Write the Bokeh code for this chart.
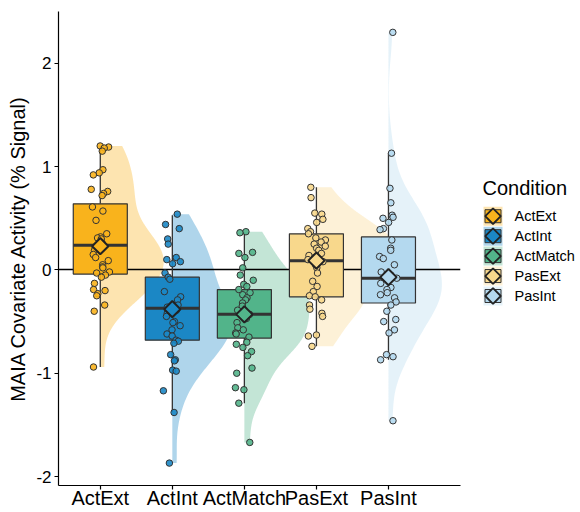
import numpy as np
from bokeh.plotting import figure
from bokeh.layouts import row
from bokeh.models import Range1d, FixedTicker, ColumnDataSource
from bokeh.transform import jitter
from bokeh.embed import file_html
from bokeh.resources import INLINE
from bokeh.core.properties import value

# ---------------- data ----------------
conditions = ["ActExt", "ActInt", "ActMatch", "PasExt", "PasInt"]
colors = ["#F9B31C", "#1B87C5", "#52B48A", "#F8D88C", "#B4D9EF"]

act_ext = [1.20, 1.19, 1.18, 1.15, 0.97, 0.94, 0.92, 0.78, 0.76, 0.74, 0.72, 0.61,
           0.57, 0.48, 0.35, 0.32, 0.31, 0.30, 0.26, 0.24, 0.22, 0.19, 0.15, 0.12,
           0.09, 0.05, 0.03, 0.02, -0.02, -0.03, -0.05, -0.07, -0.13, -0.19, -0.20,
           -0.23, -0.25, -0.34, -0.40, -0.94]
act_int = [0.54, 0.44, 0.40, 0.30, 0.25, 0.12, 0.10, 0.08, 0.06, -0.03, -0.07, -0.09,
           -0.21, -0.26, -0.29, -0.34, -0.36, -0.39, -0.42, -0.45, -0.50, -0.51, -0.54,
           -0.58, -0.62, -0.64, -0.68, -0.69, -0.71, -0.82, -0.87, -0.88, -0.97, -0.98,
           -1.17, -1.38, -1.87]
act_match = [0.37, 0.36, 0.17, 0.16, 0.12, 0.02, -0.05, -0.10, -0.14, -0.16, -0.19,
             -0.22, -0.24, -0.27, -0.29, -0.32, -0.35, -0.39, -0.43, -0.47, -0.51, -0.56,
             -0.58, -0.61, -0.62, -0.65, -0.70, -0.72, -0.75, -0.79, -0.83, -0.95, -1.00,
             -1.14, -1.16, -1.29, -1.67]
pas_ext = [0.80, 0.70, 0.55, 0.54, 0.49, 0.46, 0.40, 0.37, 0.35, 0.31, 0.29, 0.27, 0.25,
           0.23, 0.21, 0.19, 0.16, 0.14, 0.12, 0.10, 0.08, 0.05, 0.02, -0.03, -0.11,
           -0.16, -0.21, -0.25, -0.26, -0.29, -0.34, -0.38, -0.42, -0.45, -0.63, -0.64,
           -0.74]
pas_int = [2.30, 1.13, 0.79, 0.65, 0.53, 0.51, 0.50, 0.46, 0.40, 0.39, 0.29, 0.21, 0.19,
           0.13, 0.11, 0.05, -0.02, -0.05, -0.08, -0.13, -0.17, -0.19, -0.22, -0.24,
           -0.27, -0.31, -0.34, -0.40, -0.48, -0.50, -0.58, -0.61, -0.82, -0.84, -0.87,
           -1.46]

q1 = [-0.04, -0.68, -0.66, -0.26, -0.32]
median = [0.24, -0.37, -0.43, 0.09, -0.08]
q3 = [0.64, -0.07, -0.19, 0.35, 0.32]
whisker_low = [-0.94, -1.38, -1.29, -0.74, -0.87]
whisker_high = [1.20, 0.53, 0.36, 0.80, 1.13]
means = [0.23, -0.38, -0.43, 0.09, -0.07]

y_ticks = [-2, -1, 0, 1, 2]
y_title = "MAIA Covariate Activity (% Signal)"
legend_title = "Condition"

groups = [act_ext, act_int, act_match, pas_ext, pas_int]
FONT = "Liberation Sans"
DARK = "#333333"
H = 511

# ---------------- main figure ----------------
p = figure(width=468, height=H, x_range=Range1d(0.42, 6.0), y_range=Range1d(-2.087, 2.502),
           output_backend="svg", toolbar_location=None,
           min_border_left=58, min_border_right=8, min_border_top=11, min_border_bottom=0)
p.xgrid.visible = False
p.ygrid.visible = False
p.outline_line_color = None
p.background_fill_color = "white"

xpos = [i + 1 for i in range(len(conditions))]

# half violins (gaussian KDE, nrd0 bandwidth, trimmed to data range, area scaling)
def kde(vals):
    v = np.asarray(vals, dtype=float)
    n = len(v)
    sd = v.std(ddof=1)
    iqr = np.percentile(v, 75) - np.percentile(v, 25)
    bw = 0.9 * min(sd, iqr / 1.34) * n ** -0.2
    grid = np.linspace(v.min(), v.max(), 256)
    d = np.exp(-0.5 * ((grid[:, None] - v[None, :]) / bw) ** 2).sum(1) / (n * bw * np.sqrt(2 * np.pi))
    return grid, d

dens = [kde(g) for g in groups]
dmax = max(d.max() for _, d in dens)
VW = 1.1
for x, (grid, d), c in zip(xpos, dens, colors):
    w = d / dmax * VW
    xs = np.concatenate([np.full(len(grid), float(x)), (x + w)[::-1]])
    ys = np.concatenate([grid, grid[::-1]])
    p.patch(xs, ys, fill_color=c, fill_alpha=0.35, line_alpha=0)

# zero line
p.hspan(y=[0], line_color="black", line_width=1.3)

# whiskers
p.segment(x0=xpos, y0=q3, x1=xpos, y1=whisker_high, line_color=DARK, line_width=1.3)
p.segment(x0=xpos, y0=q1, x1=xpos, y1=whisker_low, line_color=DARK, line_width=1.3)

# boxes
BW = 0.375
box_src = ColumnDataSource(dict(
    left=[x - BW for x in xpos], right=[x + BW for x in xpos],
    q1=q1, q3=q3, med=median, color=colors, x=xpos, mean=means))
p.quad(left="left", right="right", bottom="q1", top="q3", source=box_src,
       fill_color="color", line_color=DARK, line_width=1.2)
p.segment(x0="left", x1="right", y0="med", y1="med", source=box_src,
          line_color=DARK, line_width=3)

# points
px, py, pc = [], [], []
for x, g, c in zip(xpos, groups, colors):
    px += [x] * len(g)
    py += list(g)
    pc += [c] * len(g)
pt_src = ColumnDataSource(dict(x=px, y=py, color=pc))
p.scatter(x=jitter("x", width=0.26, range=p.x_range), y="y", source=pt_src, size=6.5,
          fill_color="color", line_color=DARK, line_width=1, fill_alpha=0.9)

# mean diamonds
p.scatter(x="x", y="mean", source=box_src, marker="square", angle=np.pi / 4, size=11.5,
          fill_color="color", line_color="#222222", line_width=2)

# axes
for ax in (p.xaxis[0], p.yaxis[0]):
    ax.axis_line_color = "black"
    ax.axis_line_width = 1.2
    ax.major_tick_line_color = "black"
    ax.major_tick_line_width = 1.2
    ax.major_tick_out = 4
    ax.major_tick_in = 0
    ax.minor_tick_line_color = None
    ax.major_label_text_font = FONT
    ax.major_label_text_color = "black"

p.xaxis.ticker = FixedTicker(ticks=xpos)
p.xaxis.major_label_overrides = {x: c for x, c in zip(xpos, conditions)}
p.xaxis.major_label_text_font_size = "20px"
p.xaxis.major_label_standoff = -3

p.yaxis.ticker = FixedTicker(ticks=y_ticks)
p.yaxis.major_label_overrides = {t: str(t) for t in y_ticks}
p.yaxis.major_label_text_font_size = "17px"
p.yaxis.major_label_standoff = 3
p.yaxis.axis_label = y_title
p.yaxis.axis_label_text_font = FONT
p.yaxis.axis_label_text_font_size = "20px"
p.yaxis.axis_label_text_font_style = "normal"
p.yaxis.axis_label_text_color = "black"
p.yaxis.axis_label_standoff = 4

# ---------------- legend figure ----------------
LW = 108
lf = figure(width=LW, height=H, x_range=Range1d(0, LW), y_range=Range1d(H, 0),
            output_backend="svg", toolbar_location=None, min_border=0,
            x_axis_location=None, y_axis_location=None)
lf.xgrid.visible = False
lf.ygrid.visible = False
lf.outline_line_color = None

key_x = 24.5
first_y = 220.7
step = 21.5
ky = [first_y + i * step for i in range(len(conditions))]
leg_src = ColumnDataSource(dict(x=[key_x] * len(conditions), y=ky, color=colors,
                                label=conditions, lx=[key_x + 21.5] * len(conditions)))
lf.rect(x="x", y="y", width=19, height=19, width_units="screen", height_units="screen",
        source=leg_src, fill_color="color", fill_alpha=0.35, line_alpha=0)
lf.rect(x="x", y="y", width=16, height=13, width_units="screen", height_units="screen",
        source=leg_src, fill_color="color", line_color=DARK, line_width=1)
lf.scatter(x="x", y="y", source=leg_src, marker="square", angle=np.pi / 4, size=11,
           fill_color="color", line_color="#222222", line_width=1.8)
lf.text(x="lx", y="y", text="label", source=leg_src, text_font=value(FONT),
        text_font_size="14.5px", text_baseline="middle", text_align="left", text_color="black")
lf.text(x=[14], y=[190], text=[legend_title], text_font=value(FONT), text_font_size="20px",
        text_baseline="middle", text_align="left", text_color="black")

layout = row(p, lf)
open("out.html", "w").write(file_html(layout, INLINE))
